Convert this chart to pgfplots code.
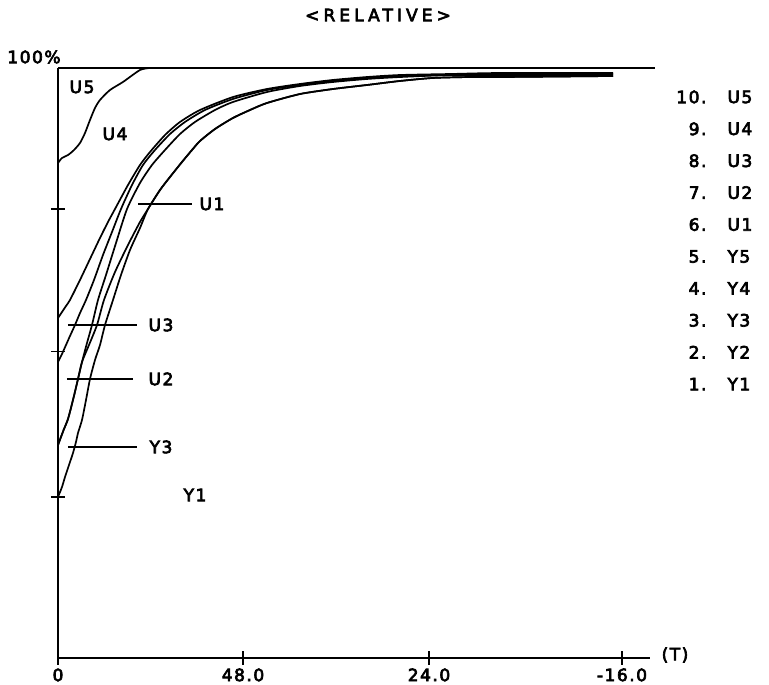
\documentclass[border=0pt]{standalone}
\usepackage{pgfplots}
\pgfplotsset{compat=1.18}
\usepackage{fontspec}
\setmainfont{DejaVu Sans}[LetterSpace=9, FakeBold=4]
\newfontfamily\titlefont{DejaVu Sans}[LetterSpace=24, FakeBold=4]
\begin{document}
\begin{tikzpicture}[font=\fontsize{17}{20}\selectfont]
\begin{axis}[
  scale only axis, width=592pt, height=590pt,
  xmin=0, xmax=592, ymin=0, ymax=100,
  axis x line=bottom, axis y line=left,
  axis line style={line width=1.8pt,-},
  xtick={0,185,371,564}, xticklabels={0,48.0,24.0,-16.0},
  ytick={27.3,51.9,76.1}, yticklabels={},
  tick style={line width=1.4pt,black}, tick align=center, major tick length=14pt,
  /pgf/number format/assume math mode=true,
  clip=false,
  cycle list={black},
  every axis plot/.append style={black, solid, line width=1.7pt, no markers, smooth, tension=0.4},
]
% top line (100%)
\addplot coordinates {(0,100) (597,100)};
% U5 / U4 boundary
\addplot coordinates {(0,83.90) (4,84.75) (10,85.25) (16,86.10) (22,87.29) (27,88.98) (32,91.19) (37,93.22) (42,94.58) (52,96.27) (65,97.63) (82,99.66) (92,100)};
% curve starting at 57.6
\addplot coordinates {(0,57.63) (4,58.64) (8,59.66) (12,60.68) (22,64.07) (32,67.63) (42,71.19) (50,73.90) (57,76.10) (70,80.17) (82,83.56) (92,85.76) (107,88.64) (122,90.85) (142,92.88) (175,95.08) (209,96.44) (242,97.29) (275,97.97) (309,98.47) (342,98.81) (392,98.98) (442,99.15) (555,99.15)};
% curve starting at 50.2
\addplot coordinates {(0,50.17) (4,51.53) (8,53.05) (12,54.58) (17,56.44) (22,58.47) (28,60.68) (36,64.07) (45,68.31) (54,72.20) (63,76.10) (74,80.17) (85,83.56) (97,86.10) (112,88.81) (127,90.85) (147,92.88) (175,94.75) (209,96.27) (242,97.12) (275,97.80) (309,98.31) (342,98.64) (392,98.81) (442,98.98) (555,98.98)};
% curve starting at 36.1 (a)
\addplot coordinates {(0,36.10) (3,37.46) (6,38.81) (10,40.51) (15,43.73) (20,47.29) (24,50.17) (29,53.39) (34,56.44) (40,60.68) (48,64.92) (58,70.34) (69,76.10) (82,80.51) (94,83.56) (107,86.10) (122,88.81) (137,90.85) (157,92.88) (175,94.24) (209,95.93) (242,96.95) (275,97.63) (309,98.14) (342,98.47) (392,98.81) (442,98.81) (555,98.81)};
% curve starting at 36.1 (b)
\addplot coordinates {(0,36.10) (3,37.46) (6,38.81) (10,40.51) (15,43.73) (20,47.29) (24,50.17) (31,53.05) (39,56.44) (46,60.68) (57,65.42) (70,70.00) (82,73.90) (90,76.10) (102,79.32) (112,81.53) (124,84.07) (134,86.10) (142,87.63) (157,89.66) (175,91.53) (192,92.88) (209,94.07) (242,95.59) (275,96.44) (309,97.12) (342,97.80) (375,98.31) (412,98.47) (442,98.47) (555,98.64)};
% curve starting at 27.3 (U1)
\addplot coordinates {(0,27.29) (4,28.98) (7,30.68) (11,32.71) (15,34.75) (18,36.61) (20,38.14) (24,40.34) (28,43.73) (32,47.29) (37,50.51) (42,53.05) (47,56.44) (55,60.68) (63,64.92) (72,69.15) (82,72.88) (90,76.10) (102,79.32) (112,81.53) (124,84.07) (134,86.10) (142,87.63) (157,89.66) (175,91.53) (192,92.88) (209,94.07) (242,95.59) (275,96.44) (309,97.12) (342,97.80) (375,98.31) (412,98.47) (442,98.47) (555,98.64)};
\end{axis}
\begin{scope}[x=1pt, y=-1pt, shift={(-58pt,658pt)}]
  \path (0,0) rectangle (769,675);
  \node at (378,15) {\titlefont <RELATIVE>};
  \node at (34,57) {100\%};
  \node at (675,655) {(T)};
  \node at (82,87) {U5};
  \node at (115,134) {U4};
  \draw[line width=1.4pt] (138,204) -- (192,204);
  \node at (212,204) {U1};
  \draw[line width=1.4pt] (68,325) -- (137,325);
  \node at (161,325) {U3};
  \draw[line width=1.4pt] (67,379) -- (133,379);
  \node at (161,379) {U2};
  \draw[line width=1.4pt] (68,447) -- (137,447);
  \node at (161,447) {Y3};
  \node at (195,495) {Y1};
  \foreach \n/\s [count=\k from 0] in {10./U5,9./U4,8./U3,7./U2,6./U1,5./Y5,4./Y4,3./Y3,2./Y2,1./Y1}{
    \node[anchor=east] at (710,97+31.9*\k) {\n};
    \node[anchor=west] at (724,97+31.9*\k) {\s};
  }
\end{scope}
\end{tikzpicture}
\end{document}
